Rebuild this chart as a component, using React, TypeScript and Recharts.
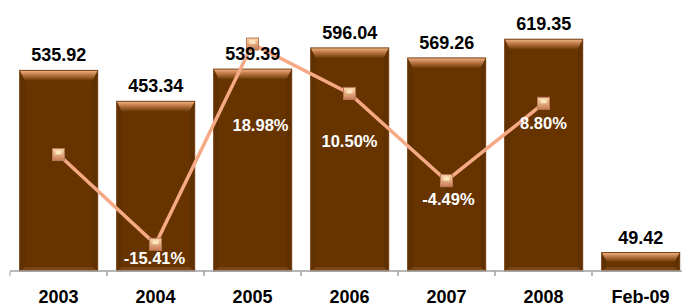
import { ComposedChart, Bar, Line, XAxis, YAxis, LabelList } from 'recharts';

const categories = ['2003', '2004', '2005', '2006', '2007', '2008', 'Feb-09'];
const turnover = [535.92, 453.34, 539.39, 596.04, 569.26, 619.35, 49.42];
const growthPct = [0, -15.41, 18.98, 10.5, -4.49, 8.8, null];

const data = categories.map((name, i) => ({
  name,
  turnover: turnover[i],
  growth: growthPct[i],
}));

const FONT = '"Liberation Sans", Arial, sans-serif';

// hand-placed label nudges, as in the source slide
const pctLabelDx = [0, -1, 8, 0, 2, 0, 0];
const pctLabelDy = [0, 14, 81, 48, 18, 20, 0];

function BevelBar(props: any) {
  const { x, y, width, height } = props;
  if (!height || height <= 0) return null;
  const b = Math.min(10, height / 2);
  const s = Math.min(5, width / 4);
  return (
    <g>
      <rect x={x} y={y} width={width} height={height} fill="#673400" />
      <polygon
        points={`${x},${y} ${x + s},${y + b} ${x + s},${y + height - 4} ${x},${y + height}`}
        fill="#5f3000"
      />
      <polygon
        points={`${x + width},${y} ${x + width - s},${y + b} ${x + width - s},${y + height - 4} ${x + width},${y + height}`}
        fill="#5f3000"
      />
      <polygon
        points={`${x},${y + height} ${x + s},${y + height - 4} ${x + width - s},${y + height - 4} ${x + width},${y + height}`}
        fill="#7c4516"
      />
      <polygon
        points={`${x},${y} ${x + width},${y} ${x + width - s},${y + b} ${x + s},${y + b}`}
        fill="url(#bevelTop)"
      />
      <rect x={x} y={y} width={width} height={height} fill="none" stroke="#7a4216" strokeWidth={1} />
    </g>
  );
}

function SquareDot(props: any) {
  const { cx, cy, value } = props;
  if (value == null || cx == null || cy == null) return null;
  return (
    <g>
      <rect x={cx - 6} y={cy - 6} width={12} height={12} fill="url(#dotFill)" stroke="#b87a5c" strokeWidth={1} />
      <rect x={cx - 3} y={cy - 4} width={6} height={4} fill="#fff0c8" opacity={0.8} />
    </g>
  );
}

function PctLabel(props: any) {
  const { x, y, value, index } = props;
  if (index === 0 || value == null) return null;
  return (
    <text
      x={x + pctLabelDx[index]}
      y={y + pctLabelDy[index]}
      textAnchor="middle"
      dominantBaseline="central"
      fill="#ffffff"
      fontFamily={FONT}
      fontWeight="bold"
      fontSize={16.5}
    >
      {value.toFixed(2)}%
    </text>
  );
}

function CategoryTick(props: any) {
  const { x, y, payload } = props;
  const half = 97 / 2;
  return (
    <g>
      <line x1={x - half} y1={y - 8} x2={x - half} y2={y - 3} stroke="#a0a0a0" />
      <line x1={x + half} y1={y - 8} x2={x + half} y2={y - 3} stroke="#a0a0a0" />
      <text x={x} y={y + 24} textAnchor="middle" fontFamily={FONT} fontWeight="bold" fontSize={18} fill="#000">
        {payload.value}
      </text>
    </g>
  );
}

export default function App() {
  return (
    <div style={{ position: 'fixed', left: 0, top: 0, width: 682, height: 305, overflow: 'hidden', background: '#fff' }}>
      <ComposedChart
        width={690}
        height={305}
        data={data}
        margin={{ top: 9, right: 1, bottom: 4, left: 10 }}
        barCategoryGap="10%"
      >
        <defs>
          <linearGradient id="bevelTop" x1="0" y1="0" x2="0" y2="1">
            <stop offset="0%" stopColor="#f0b88a" />
            <stop offset="35%" stopColor="#c98350" />
            <stop offset="100%" stopColor="#6e3a08" />
          </linearGradient>
          <linearGradient id="dotFill" x1="0" y1="0" x2="0" y2="1">
            <stop offset="0%" stopColor="#fbd7a8" />
            <stop offset="100%" stopColor="#c97c55" />
          </linearGradient>
        </defs>
        <XAxis
          dataKey="name"
          height={30}
          axisLine={{ stroke: '#a0a0a0', strokeWidth: 1.5 }}
          tickLine={false}
          tick={<CategoryTick />}
          interval={0}
        />
        <YAxis yAxisId="left" hide domain={[0, 700]} />
        <YAxis yAxisId="right" hide orientation="right" domain={[-20, 25]} />
        <Bar yAxisId="left" dataKey="turnover" shape={<BevelBar />} isAnimationActive={false}>
          <LabelList
            dataKey="turnover"
            position="top"
            offset={9}
            formatter={(v: any) => Number(v).toFixed(2)}
            style={{ fontFamily: FONT, fontWeight: 'bold', fontSize: 18, fill: '#000' }}
          />
        </Bar>
        <Line
          yAxisId="right"
          type="linear"
          dataKey="growth"
          stroke="#f5a985"
          strokeWidth={3.5}
          dot={<SquareDot />}
          activeDot={false}
          isAnimationActive={false}
        >
          <LabelList dataKey="growth" content={<PctLabel />} />
        </Line>
      </ComposedChart>
    </div>
  );
}
